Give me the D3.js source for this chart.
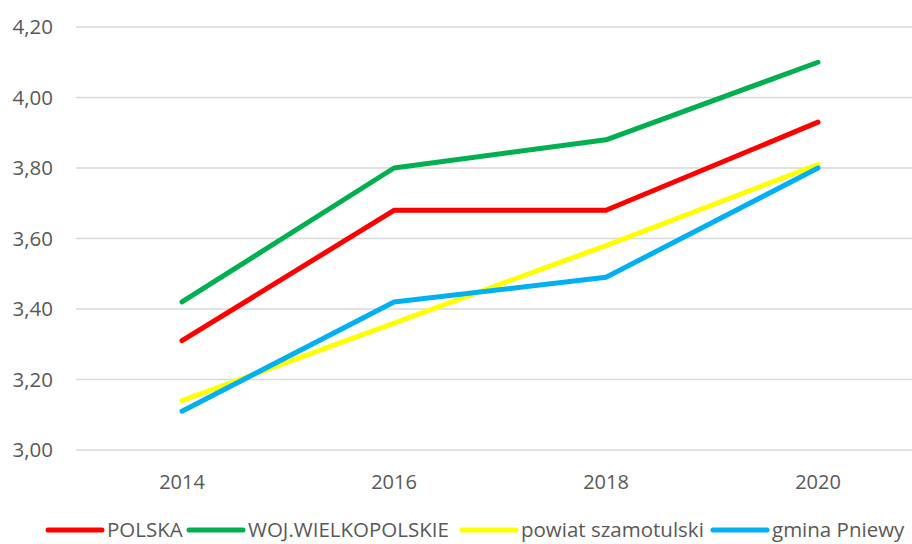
<!DOCTYPE html>
<html>
<head>
<meta charset="utf-8">
<script src="https://cdn.jsdelivr.net/npm/d3@7"></script>
<style>
  body { margin: 0; background: #fff; }
  svg { display: block; font-family: "Open Sans", sans-serif; }
</style>
</head>
<body>
<div id="chart"></div>
<script>
const years = ['2014', '2016', '2018', '2020']
const polska = [3.31, 3.68, 3.68, 3.93]
const wielkopolskie = [3.42, 3.80, 3.88, 4.10]
const szamotulski = [3.14, 3.36, 3.58, 3.81]
const pniewy = [3.11, 3.42, 3.49, 3.80]
const seriesNames = ['POLSKA', 'WOJ.WIELKOPOLSKIE', 'powiat szamotulski', 'gmina Pniewy']
const seriesColors = ['#ff0000', '#00b050', '#ffff00', '#00b0f0']
const yTicks = [3.0, 3.2, 3.4, 3.6, 3.8, 4.0, 4.2]

const width = 912
const height = 544

const series = [polska, wielkopolskie, szamotulski, pniewy].map((vals, i) => {
  return { name: seriesNames[i], color: seriesColors[i], values: vals }
})

const svg = d3
  .select('#chart')
  .append('svg')
  .attr('width', width)
  .attr('height', height)
  .attr('viewBox', [0, 0, width, height])

// plot area runs a bit past the right edge in the original
const x = d3.scalePoint().domain(years).range([76, 924]).padding(0.5)
const y = d3.scaleLinear().domain([3.0, 4.2]).range([450, 27])

const fmt = v => d3.format('.2f')(v).replace('.', ',')

// gridlines
svg
  .append('g')
  .selectAll('line')
  .data(yTicks)
  .enter()
  .append('line')
  .attr('x1', 76)
  .attr('x2', width)
  .attr('y1', d => y(d))
  .attr('y2', d => y(d))
  .attr('stroke', '#d9d9d9')
  .attr('stroke-width', 1.3)

// y labels
svg
  .append('g')
  .selectAll('text')
  .data(yTicks)
  .enter()
  .append('text')
  .attr('x', 53)
  .attr('y', d => y(d))
  .attr('dy', '0.36em')
  .attr('text-anchor', 'end')
  .attr('fill', '#595959')
  .style('font-size', '20.5px')
  .text(d => fmt(d))

// x labels
svg
  .append('g')
  .selectAll('text')
  .data(years)
  .enter()
  .append('text')
  .attr('x', d => x(d))
  .attr('y', 489)
  .attr('text-anchor', 'middle')
  .attr('fill', '#595959')
  .style('font-size', '20px')
  .text(d => d)

const line = d3
  .line()
  .x((d, i) => x(years[i]))
  .y(d => y(d))

svg
  .append('g')
  .selectAll('path')
  .data(series)
  .enter()
  .append('path')
  .attr('d', d => line(d.values))
  .attr('fill', 'none')
  .attr('stroke', d => d.color)
  .attr('stroke-width', 5)
  .attr('stroke-linecap', 'round')
  .attr('stroke-linejoin', 'round')

// legend (kept just inside the bottom edge)
const legendX = [48, 189, 462, 713]
const legend = svg
  .append('g')
  .selectAll('g')
  .data(series)
  .enter()
  .append('g')
  .attr('transform', (d, i) => `translate(${legendX[i]},530)`)

legend
  .append('line')
  .attr('x1', 0)
  .attr('x2', 54)
  .attr('stroke', d => d.color)
  .attr('stroke-width', 5)
  .attr('stroke-linecap', 'round')

legend
  .append('text')
  .attr('x', 59)
  .attr('dy', '0.36em')
  .attr('fill', '#595959')
  .style('font-size', '20.5px')
  .text(d => d.name)
</script>
</body>
</html>
